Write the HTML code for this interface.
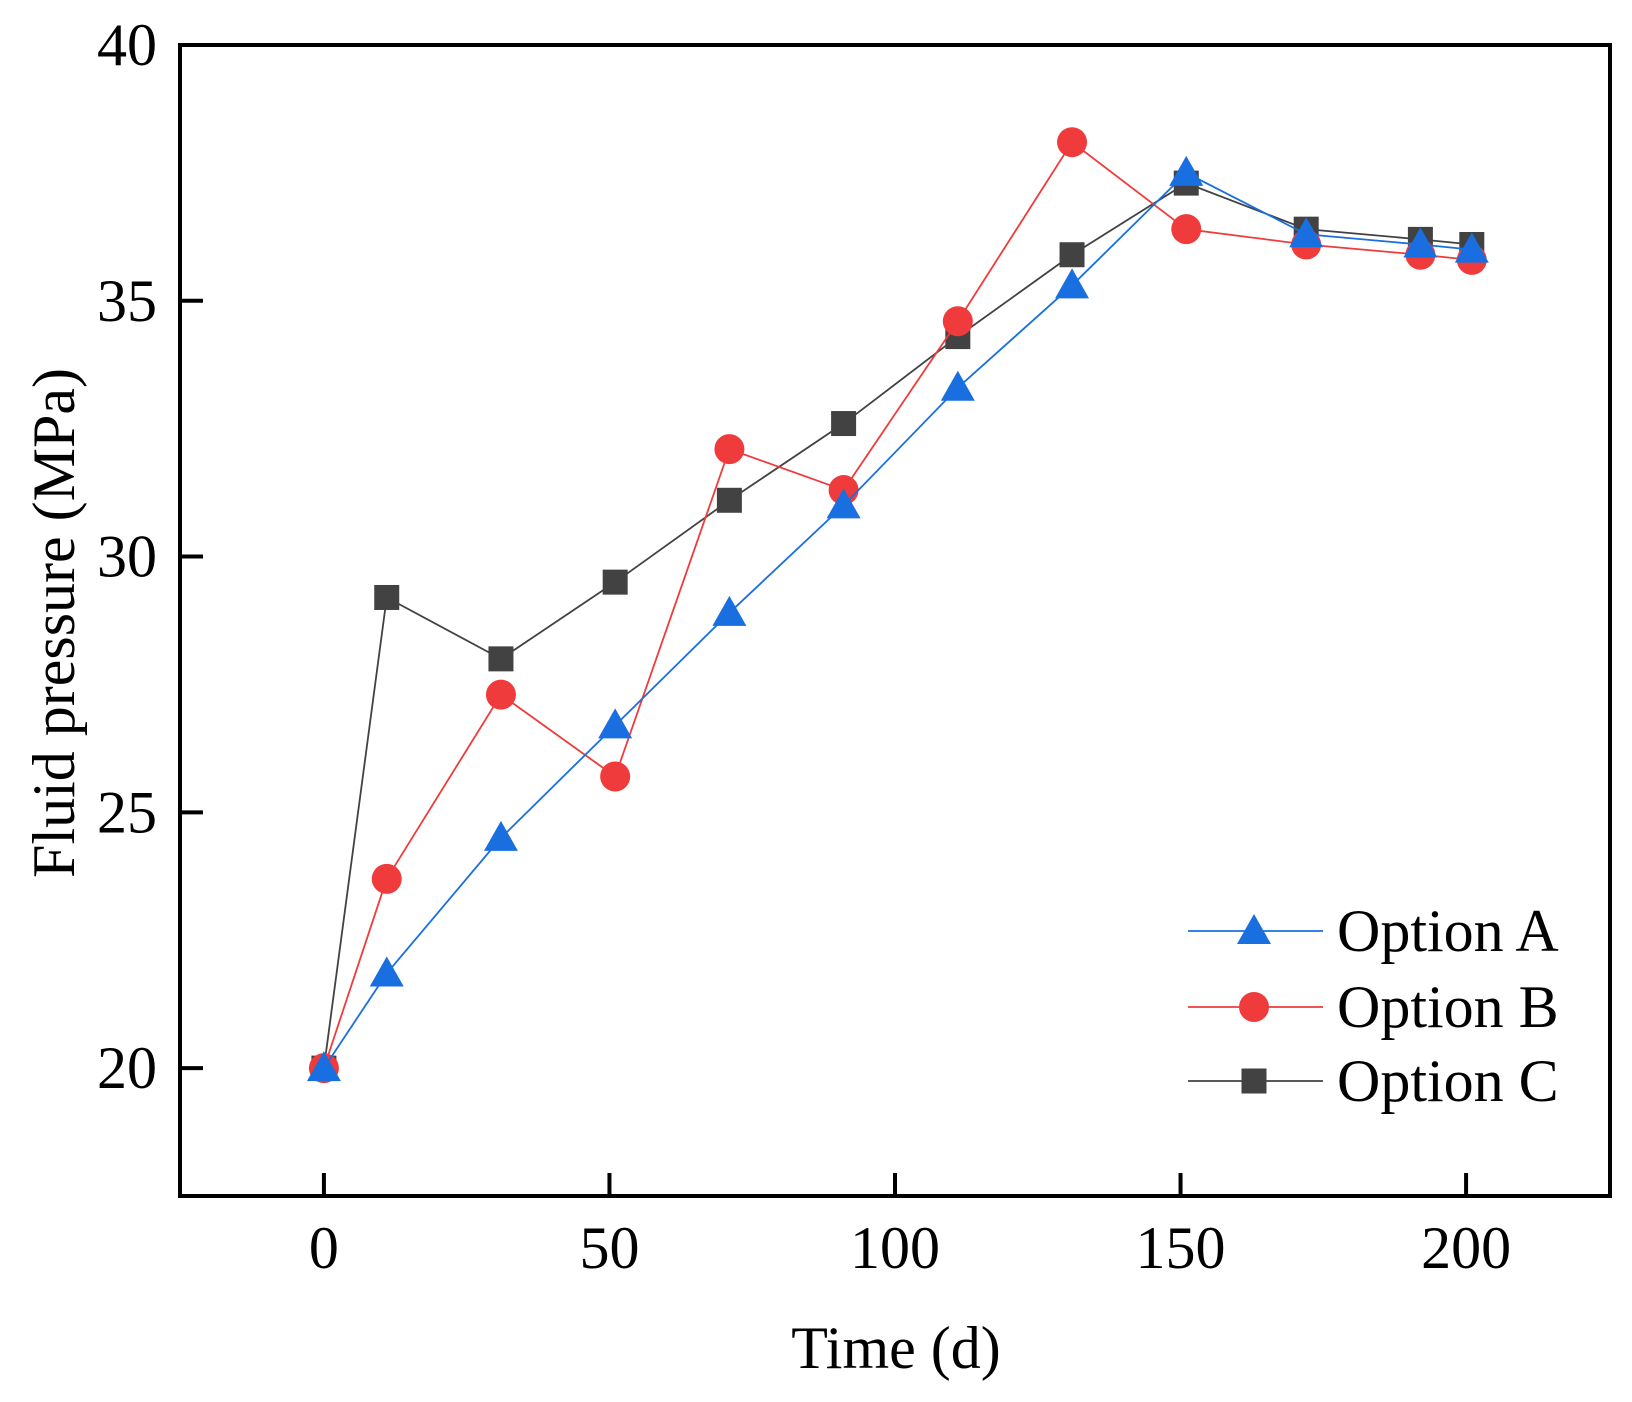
<!DOCTYPE html>
<html><head><meta charset="utf-8"><style>
html,body{margin:0;padding:0;background:#fff}
svg text{font-family:"Liberation Serif",serif;fill:#000}
</style></head><body>
<svg id="chart" width="1632" height="1397" viewBox="0 0 1632 1397" xmlns="http://www.w3.org/2000/svg">
<g id="plot"></g>
</svg>
<script>
const times = [0, 11, 31, 51, 71, 91, 111, 131, 151, 172, 192, 201];
const optionA = [20.0, 21.85, 24.5, 26.7, 28.9, 31.0, 33.3, 35.3, 37.5, 36.3, 36.1, 36.0];
const optionB = [20.0, 23.7, 27.3, 25.7, 32.1, 31.3, 34.6, 38.1, 36.4, 36.1, 35.9, 35.8];
const optionC = [20.0, 29.2, 28.0, 29.5, 31.1, 32.6, 34.3, 35.9, 37.3, 36.4, 36.2, 36.1];
const xTicks = [0, 50, 100, 150, 200];
const yTicks = [20, 25, 30, 35, 40];
const seriesNames = ["Option A", "Option B", "Option C"];

const L = 180, R = 1610, T = 45, B = 1196;
const X0 = -25.2, X1 = 225.2, Y0 = 17.5, Y1 = 40;
const xs = v => L + (v - X0) / (X1 - X0) * (R - L);
const ys = v => B - (v - Y0) / (Y1 - Y0) * (B - T);
const NS = "http://www.w3.org/2000/svg";
const g = document.getElementById('plot');
function mk(tag, attrs, parent) {
  const e = document.createElementNS(NS, tag);
  for (const k in attrs) e.setAttribute(k, attrs[k]);
  (parent || g).appendChild(e);
  return e;
}
xTicks.forEach(t => {
  const x = xs(t);
  const tk = mk('line', {x1: x, x2: x, y1: B, y2: B - 23, stroke: '#000', 'stroke-width': 4});
  
  
  const lb = mk('text', {x: x, y: 1268, 'text-anchor': 'middle', 'font-size': 60});
  lb.textContent = t;
  
  
});
yTicks.forEach(t => {
  const y = ys(t);
  const tk = mk('line', {x1: L, x2: L + 23, y1: y, y2: y, stroke: '#000', 'stroke-width': 4});
  
  
  const lb = mk('text', {x: 157, y: y + 20, 'text-anchor': 'end', 'font-size': 60});
  lb.textContent = t;
  
  
});
const frame = mk('rect', {x: L, y: T, width: R - L, height: B - T, fill: 'none', stroke: '#000', 'stroke-width': 4});


const xt = mk('text', {x: 896, y: 1368, 'text-anchor': 'middle', 'font-size': 60});
xt.textContent = 'Time (d)';


const yt = mk('text', {x: 0, y: 0, 'text-anchor': 'middle', 'font-size': 60, transform: 'translate(74,623) rotate(-90)'});
yt.textContent = 'Fluid pressure (MPa)';



function marker(type, x, y, color, parent) {
  let m;
  if (type === 'tri') m = mk('polygon', {points: `${x},${y-17} ${x-17},${y+13} ${x+17},${y+13}`, fill: color}, parent);
  else if (type === 'circ') m = mk('circle', {cx: x, cy: y, r: 15, fill: color}, parent);
  else m = mk('rect', {x: x - 12.5, y: y - 12.5, width: 25, height: 25, fill: color}, parent);
  return m;
}
const defs = [
  {vals: optionC, color: '#424242', mark: 'sq', name: 'series-option-c'},
  {vals: optionB, color: '#ef3b3b', mark: 'circ', name: 'series-option-b'},
  {vals: optionA, color: '#1a6fe0', mark: 'tri', name: 'series-option-a'}
];
defs.forEach(d => {
  const sg = mk('g', {});
  
  
  const pts = times.map((t, i) => xs(t) + ',' + ys(d.vals[i])).join(' ');
  const pl = mk('polyline', {points: pts, fill: 'none', stroke: d.color, 'stroke-width': 1.8}, sg);
  
  
  times.forEach((t, i) => {
    const m = marker(d.mark, xs(t), ys(d.vals[i]), d.color, sg);
    
    
  });
});
const leg = mk('g', {});


const legDefs = [
  {color: '#1a6fe0', mark: 'tri', y: 931},
  {color: '#ef3b3b', mark: 'circ', y: 1007},
  {color: '#424242', mark: 'sq', y: 1081}
];
legDefs.forEach((d, i) => {
  const eg = mk('g', {}, leg);
  
  
  mk('line', {x1: 1188, x2: 1323, y1: d.y, y2: d.y, stroke: d.color, 'stroke-width': 1.8}, eg);
  marker(d.mark, 1254, d.y, d.color, eg);
  const tx = mk('text', {x: 1337, y: d.y + 20, 'font-size': 60}, eg);
  tx.textContent = seriesNames[i];
});
</script>
</body></html>
